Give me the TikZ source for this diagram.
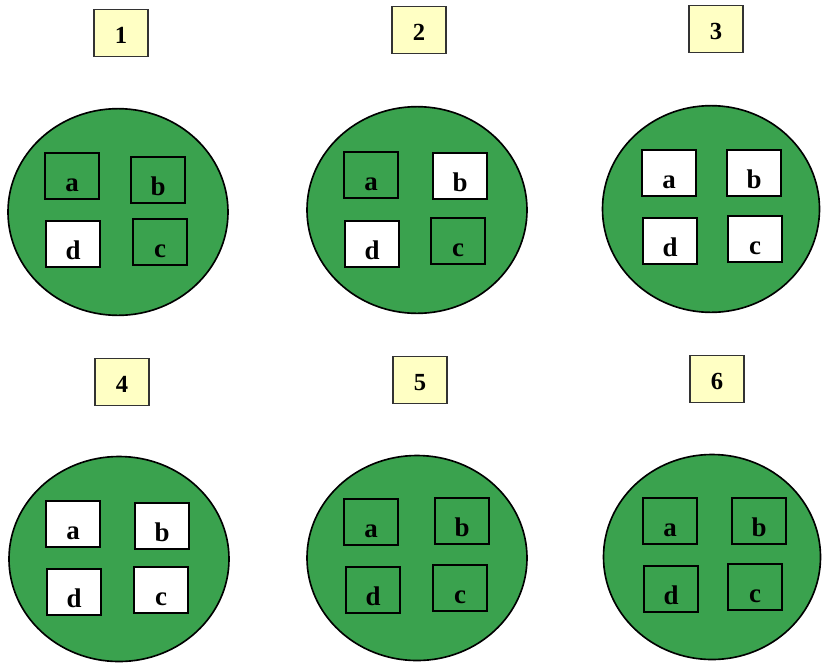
\documentclass[tikz,border=0pt]{standalone}
\usepackage{fontspec}
\setmainfont{Liberation Serif}
\usepackage{tikz}
\usetikzlibrary{shapes.geometric, positioning}

\definecolor{plategreen}{RGB}{58,162,78}
\definecolor{tagyellow}{RGB}{255,255,196}

\begin{document}
\begin{tikzpicture}[
        x=0.03cm, y=-0.03cm,
        plate/.style={ellipse, draw=black, fill=plategreen, line width=1.4pt, inner sep=0pt, minimum width=6.6cm, minimum height=6.2cm},
        tag/.style={rectangle, draw=black!80, fill=tagyellow, line width=1.4pt, minimum width=1.62cm, minimum height=1.42cm, inner sep=0pt, text height=0.63cm, text depth=0pt, font=\fontsize{21}{24}\selectfont\bfseries},
        well/.style={rectangle, draw=black, line width=1.8pt, minimum width=1.62cm, minimum height=1.4cm, inner sep=0pt, text height=0.9cm, text depth=0pt, font=\fontsize{23}{26}\selectfont\bfseries},
        on/.style={well, fill=plategreen},
        off/.style={well, fill=white}
    ]
        \useasboundingbox (0,0) rectangle (822,664);

        % top row
        \node[tag] (t1) at (121,33) {1};
        \node[tag] (t2) at (419,30) {2};
        \node[tag] (t3) at (716,29) {3};

        \node[plate] (p1) at (118,212) {};
        \node[plate] (p2) at (417,210) {};
        \node[plate, minimum width=6.51cm] (p3) at (711,209) {};

        \node[on] (p1a) at (72,176) {a};
        \node[on] (p1b) at (158,180) {b};
        \node[on] (p1c) at (160,242) {c};
        \node[off] (p1d) at (73,244) {d};

        \node[on] (p2a) at (371,175) {a};
        \node[off] (p2b) at (460,176) {b};
        \node[on] (p2c) at (458,241) {c};
        \node[off] (p2d) at (372,244) {d};

        \node[off] (p3a) at (669,173) {a};
        \node[off] (p3b) at (754,173) {b};
        \node[off] (p3c) at (755,239) {c};
        \node[off] (p3d) at (670,241) {d};

        % bottom row
        \node[tag] (t4) at (122,382) {4};
        \node[tag] (t5) at (420,380) {5};
        \node[tag] (t6) at (717,379) {6};

        \node[plate, minimum height=6.15cm] (p4) at (119,559) {};
        \node[plate, minimum height=6.15cm] (p5) at (417,558) {};
        \node[plate, minimum width=6.51cm, minimum height=6.15cm] (p6) at (712,557) {};

        \node[off] (p4a) at (73,524) {a};
        \node[off] (p4b) at (162,526) {b};
        \node[off] (p4c) at (161,590) {c};
        \node[off] (p4d) at (74,592) {d};

        \node[on] (p5a) at (371,522) {a};
        \node[on] (p5b) at (462,521) {b};
        \node[on] (p5c) at (460,588) {c};
        \node[on] (p5d) at (373,590) {d};

        \node[on] (p6a) at (670,521) {a};
        \node[on] (p6b) at (759,521) {b};
        \node[on] (p6c) at (755,587) {c};
        \node[on] (p6d) at (671,589) {d};
    \end{tikzpicture}
\end{document}
